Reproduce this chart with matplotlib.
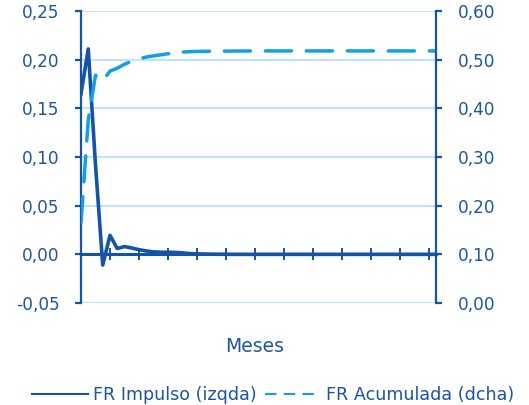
import numpy as np
import matplotlib
matplotlib.use('Agg')
import matplotlib.pyplot as plt
from matplotlib.lines import Line2D
from matplotlib.ticker import FuncFormatter, MultipleLocator

# monthly impulse response (left axis) and accumulated response (right axis)
meses = np.arange(50)
fr_impulso = [0.165, 0.211, 0.092, -0.011, 0.0195, 0.006, 0.008, 0.0065, 0.0048, 0.0035,
              0.0025, 0.0022, 0.0021, 0.002, 0.0015, 0.0008, 0.0005, 0.0003, 0.0002, 0.0001,
              0.0001, 0.0, 0.0, 0.0, 0.0, 0.0, 0.0, 0.0, 0.0, 0.0,
              0.0, 0.0, 0.0, 0.0, 0.0, 0.0, 0.0, 0.0, 0.0, 0.0,
              0.0, 0.0, 0.0, 0.0, 0.0, 0.0, 0.0, 0.0, 0.0, 0.0]
fr_acumulada = [0.165, 0.376, 0.468, 0.457, 0.4765, 0.4825, 0.4905, 0.497, 0.5018, 0.5053,
                0.5078, 0.510, 0.5121, 0.5141, 0.5156, 0.5164, 0.5169, 0.5172, 0.5174, 0.5175,
                0.5176, 0.5177, 0.5178, 0.5178, 0.5179, 0.5179, 0.518, 0.518, 0.518, 0.518,
                0.518, 0.518, 0.518, 0.518, 0.518, 0.518, 0.518, 0.518, 0.518, 0.518,
                0.518, 0.518, 0.518, 0.518, 0.518, 0.518, 0.518, 0.518, 0.518, 0.518]

navy = '#1553a6'
txt = '#1b55a3'
cyan = '#0fa0e6'
grid = '#bde5f7'

fig = plt.figure(figsize=(5.29, 4.05), dpi=100)
ax = fig.add_axes([81/529, 1-303/405, 355/529, 292/405])
ax2 = ax.twinx()

comma = FuncFormatter(lambda v, p: ('%.2f' % v).replace('.', ','))

ax.set_ylim(-0.05, 0.25)
ax.yaxis.set_major_locator(MultipleLocator(0.05))
ax.yaxis.set_major_formatter(comma)
ax.set_xlim(0, 49)
ax.set_xticks(np.arange(4, 49, 4))
ax.set_xticklabels([])
ax.yaxis.grid(True, color=grid, linewidth=1.5)
ax.set_axisbelow(True)

ax2.set_ylim(0, 0.6)
ax2.yaxis.set_major_locator(MultipleLocator(0.1))
ax2.yaxis.set_major_formatter(comma)

ax.plot(meses, fr_impulso, color=navy, linewidth=2.6, solid_joinstyle='round', zorder=3)
l2, = ax2.plot(meses, fr_acumulada, color=cyan, linewidth=2.5, dash_capstyle='round')
l2.set_dashes((7.5, 4.3))

for a in (ax, ax2):
    a.spines['top'].set_visible(False)
    for s in a.spines.values():
        s.set_color(navy)
        s.set_linewidth(1.6)
ax.spines['right'].set_visible(False)
ax2.spines['left'].set_visible(False)
ax2.spines['bottom'].set_visible(False)
ax.spines['bottom'].set_position(('data', 0))
ax.spines['bottom'].set_linewidth(2.2)

ax.tick_params(axis='y', colors=navy, labelcolor=txt, labelsize=12.2, length=4, width=1.6, pad=11.5)
ax2.tick_params(axis='y', colors=navy, labelcolor=txt, labelsize=12.2, length=4, width=1.6, pad=11.5)
ax.tick_params(axis='x', colors=navy, direction='inout', length=9, width=1.4)

fig.text(255/529, 1-346/405, 'Meses', color=txt, fontsize=13.5, ha='center', va='center')

handles = [Line2D([], [], color=navy, linewidth=1.5),
           Line2D([], [], color=cyan, linewidth=1.5, dashes=(5.5, 3.5))]
fig.legend(handles, ['FR Impulso (izqda)', 'FR Acumulada (dcha)'], loc='center',
           bbox_to_anchor=(273/529, 1-395/405), ncol=2, frameon=False, fontsize=12.6,
           labelcolor=txt, handlelength=3.2, handletextpad=0.3, columnspacing=0.5)

fig.savefig('out.png', dpi=100)
